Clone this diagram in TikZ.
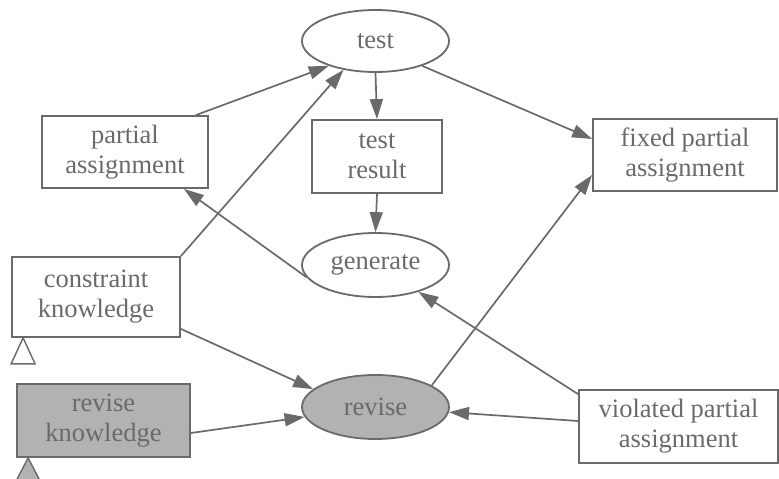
\documentclass[tikz,border=0pt]{standalone}
\usepackage{fontspec}
\setmainfont{Liberation Serif}
\usetikzlibrary{arrows.meta,shapes.geometric,calc}
\definecolor{ln}{HTML}{6A6A6A}
\definecolor{tx}{HTML}{6A6A6A}
\definecolor{gf}{HTML}{B2B2B2}
\tikzset{
  base/.style={draw=ln, line width=1.8pt, text=tx, align=center,
    font=\fontsize{26.5}{30}\selectfont, inner sep=0pt},
  boxnode/.style={base, rectangle},
  ellnode/.style={base, ellipse},
  conn/.style={draw=ln, line width=1.7pt, -{Triangle[length=20pt,width=13pt]}},
  tri/.style={draw=ln, line width=1.4pt, line join=miter}
}
\begin{document}
\begin{tikzpicture}[x=1pt,y=-1pt]
\useasboundingbox (0,0) rectangle (779,479);
% nodes
\node[ellnode, minimum width=147pt, minimum height=62pt] (test) at (375.5,41) {test};
\node[boxnode, minimum width=130pt, minimum height=73pt] (tr) at (377,156.5) {test\\result};
\node[ellnode, minimum width=147pt, minimum height=64pt] (gen) at (375.5,265) {generate};
\node[ellnode, fill=gf, minimum width=147pt, minimum height=64pt] (rev) at (375.5,407) {revise};
\node[boxnode, minimum width=166pt, minimum height=72pt] (pa) at (125,152) {partial\\assignment};
\node[boxnode, minimum width=168pt, minimum height=80pt] (ck) at (96,297) {constraint\\knowledge};
\node[boxnode, fill=gf, minimum width=173pt, minimum height=73pt] (rk) at (103.5,420.5) {revise\\knowledge};
\node[boxnode, minimum width=184pt, minimum height=72pt] (fpa) at (685,155) {fixed partial\\assignment};
\node[boxnode, minimum width=199pt, minimum height=73pt] (vpa) at (678.5,426.5) {violated partial\\assignment};
% triangles
\coordinate (ckt) at ($(ck.south west)+(12,0)$);
\draw[tri, fill=white] (ckt) -- ++(-12,26) -- ++(24,0) -- cycle;
\coordinate (rkt) at ($(rk.south west)+(12,0)$);
\draw[tri, fill=gf] (rkt) -- ++(-12,23) -- ++(24,0) -- cycle;
% connectors
\draw[conn] ($(pa.north east)+(-13,0)$) -- (test.208);
\draw[conn] (ck.north east) -- (test.222);
\draw[conn] (test.south) -- (tr.north);
\draw[conn] (tr.south) -- (gen.north);
\draw[conn] (test.-28) -- ($(fpa.west)+(0,-16)$);
\draw[conn] (gen.190) -- ($(pa.south east)+(-25,0)$);
\draw[conn] ($(ck.south east)+(0,-9)$) -- (rev.164);
\draw[conn] ($(rk.east)+(0,12.5)$) -- (rev.188);
\draw[conn] (rev.21) -- ($(fpa.west)+(0,20)$);
\draw[conn] ($(vpa.north west)+(0,5)$) -- (gen.-32);
\draw[conn] ($(vpa.west)+(0,-5.5)$) -- (rev.-4);
\end{tikzpicture}
\end{document}
